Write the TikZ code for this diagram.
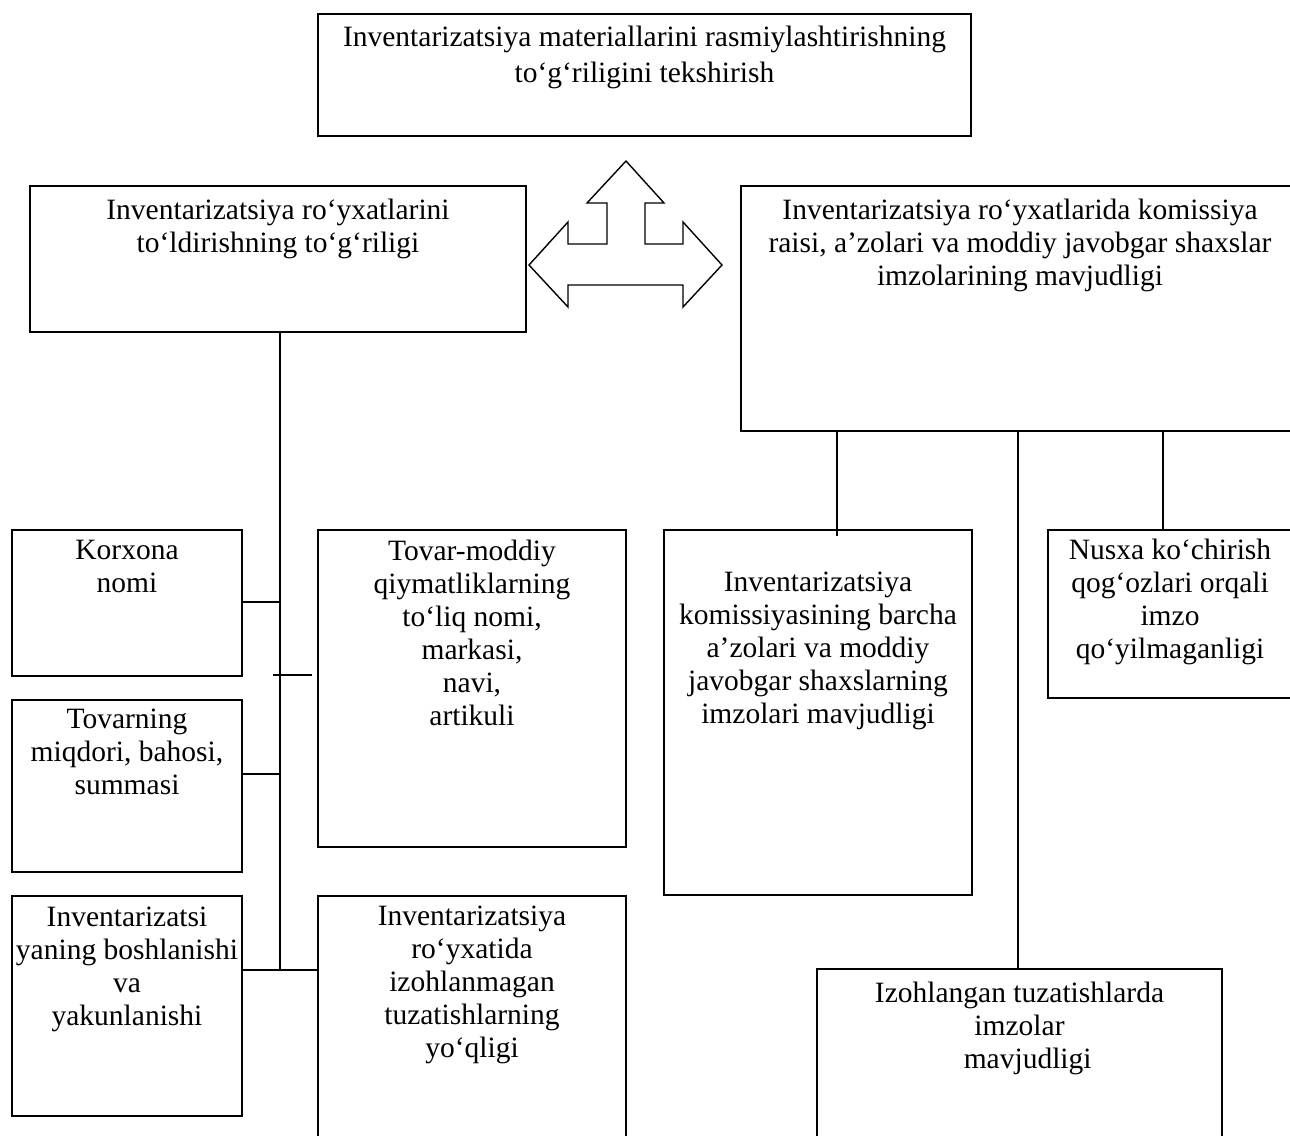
\documentclass[tikz,border=0pt]{standalone}
\usepackage{fontspec}
\setmainfont{Liberation Serif}
\usetikzlibrary{positioning}
\providecommand{\invFont}{\fontsize{29.5}{33}\selectfont}
\tikzset{
  invbox/.style={draw, line width=1.4pt, inner sep=0pt},
  invtext/.style={align=center, inner sep=0pt, font=\invFont},
  invline/.style={line width=1.4pt}
}
\begin{document}
\begin{tikzpicture}[x=1pt, y=-1pt, line join=miter]
\useasboundingbox (0,0) rectangle (1290,1135);
\clip (0,0) rectangle (1290,1135);
% Top level
\node[invbox, minimum width=653, minimum height=122] (top) at (644.5,75) {};
\node[invtext, below=13pt of top.north, align=center] (toptxt) {Inventarizatsiya materiallarini rasmiylashtirishning\\[3pt]to‘g‘riligini tekshirish};
% Second level
\node[invbox, minimum width=496, minimum height=146] (lmid) at (278,259) {};
\node[invtext, below=14pt of lmid.north] (lmidtxt) {Inventarizatsiya ro‘yxatlarini\\to‘ldirishning to‘g‘riligi};
\node[invbox, minimum width=558, minimum height=245] (rmid) at (1020,308.5) {};
\node[invtext, below=14pt of rmid.north] (rmidtxt) {Inventarizatsiya ro‘yxatlarida komissiya\\raisi, a’zolari va moddiy javobgar shaxslar\\imzolarining mavjudligi};
% Three-way arrow
\draw[invline] (529,265) -- (568,222) -- (568,244) -- (607,244) -- (607,203) -- (587,203)
  -- (626,161) -- (664,203) -- (645,203) -- (645,244) -- (683,244) -- (683,222)
  -- (722,265) -- (683,307) -- (683,285) -- (568,285) -- (568,307) -- cycle;
% Left column
\node[invbox, minimum width=230, minimum height=146] (korx) at (127,603) {};
\node[invtext, below=11pt of korx.north] (korxtxt) {Korxona\\nomi};
\node[invbox, minimum width=230, minimum height=172] (tovn) at (127,786) {};
\node[invtext, below=9pt of tovn.north] (tovntxt) {Tovarning\\miqdori, bahosi,\\summasi};
\node[invbox, minimum width=230, minimum height=220] (boshl) at (127,1006) {};
\node[invtext, below=11pt of boshl.north] (boshltxt) {Inventarizatsi\\yaning boshlanishi\\va\\yakunlanishi};
% Middle column
\node[invbox, minimum width=308, minimum height=317] (tmod) at (472,688.5) {};
\node[invtext, below=11pt of tmod.north] (tmodtxt) {Tovar-moddiy\\qiymatliklarning\\to‘liq nomi,\\markasi,\\navi,\\artikuli};
\node[invbox, minimum width=308, minimum height=254] (izohm) at (472,1023) {};
\node[invtext, below=10pt of izohm.north] (izohmtxt) {Inventarizatsiya\\ro‘yxatida\\izohlanmagan\\tuzatishlarning\\yo‘qligi};
% Right side
\node[invbox, minimum width=308, minimum height=365] (komis) at (818,712.5) {};
\node[invtext, below=42pt of komis.north] (komistxt) {Inventarizatsiya\\komissiyasining barcha\\a’zolari va moddiy\\javobgar shaxslarning\\imzolari mavjudligi};
\node[invbox, minimum width=244, minimum height=168] (nusxa) at (1170,614) {};
\node[invtext, below=10pt of nusxa.north] (nusxatxt) {Nusxa ko‘chirish\\qog‘ozlari orqali\\imzo\\qo‘yilmaganligi};
\node[invbox, minimum width=405, minimum height=181] (izohl) at (1019.5,1059.5) {};
\node[invtext, below=14pt of izohl.north] (izohltxt) {Izohlangan tuzatishlarda\\imzolar\\\hphantom{ii}mavjudligi};
% Left trunk and its branches
\coordinate (trunk) at (280,970);
\coordinate (jkorx) at (280,602);
\coordinate (jtovn) at (280,774);
\coordinate (tickL) at (273,675);
\coordinate (tickR) at (312,675);
\begin{scope}[invline]
  \draw (lmid.south -| trunk) -- (trunk);
  \draw (jkorx -| korx.east) -- (jkorx);
  \draw (jtovn -| tovn.east) -- (jtovn);
  \draw (tickL) -- (tickR);
  \draw (trunk -| boshl.east) -- (trunk -| izohm.west);
\end{scope}
% Right branches
\coordinate (bkomis) at (837,536);
\coordinate (bizohl) at (1018,969);
\coordinate (bnusxa) at (1163,530);
\begin{scope}[invline]
  \draw (bkomis |- rmid.south) -- (bkomis);
  \draw (bizohl |- rmid.south) -- (bizohl);
  \draw (bnusxa |- rmid.south) -- (bnusxa);
\end{scope}
\end{tikzpicture}
\end{document}
